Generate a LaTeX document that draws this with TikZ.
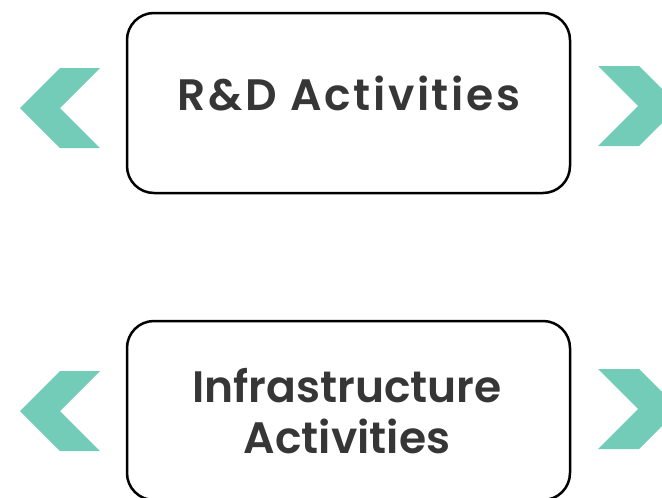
\documentclass[tikz,border=0pt]{standalone}
\usepackage{fontspec}
\setmainfont{Poppins}[BoldFont={* SemiBold}]
\definecolor{mint}{HTML}{72CCB7}
\definecolor{txt}{HTML}{363636}
\begin{document}
\begin{tikzpicture}[x=1pt,y=-1pt,
  box/.style={draw=black,line width=2.5pt,rounded corners=27pt},
  chev/.style={fill=mint,draw=none},
  lbl/.style={text=txt,font=\bfseries\fontsize{44}{51}\selectfont,align=center,inner sep=0pt}]
\useasboundingbox (0,0) rectangle (662,498);
% boxes
\draw[box] (127,13) rectangle (570,193);
\draw[box] (127,321) rectangle (570,500);
% chevrons top
\fill[chev] (60,68) -- (100,68) -- (60,108) -- (100,148) -- (60,148) -- (20,108) -- cycle;
\fill[chev] (598,66) -- (639,66) -- (679,106) -- (639,146) -- (598,146) -- (638,106) -- cycle;
% chevrons bottom
\fill[chev] (60,371) -- (100,371) -- (60,411) -- (100,451) -- (60,451) -- (20,411) -- cycle;
\fill[chev] (598,369) -- (639,369) -- (679,409) -- (639,449) -- (598,449) -- (638,409) -- cycle;
% labels
\node[lbl,anchor=base] (t1) at (349,110) {\addfontfeatures{LetterSpace=6}R\&D Activities};
\node[lbl,anchor=base] (t2) at (347,402) {Infrastructure};
\node[lbl,anchor=base] (t3) at (347,453) {Activities};
\end{tikzpicture}
\end{document}
